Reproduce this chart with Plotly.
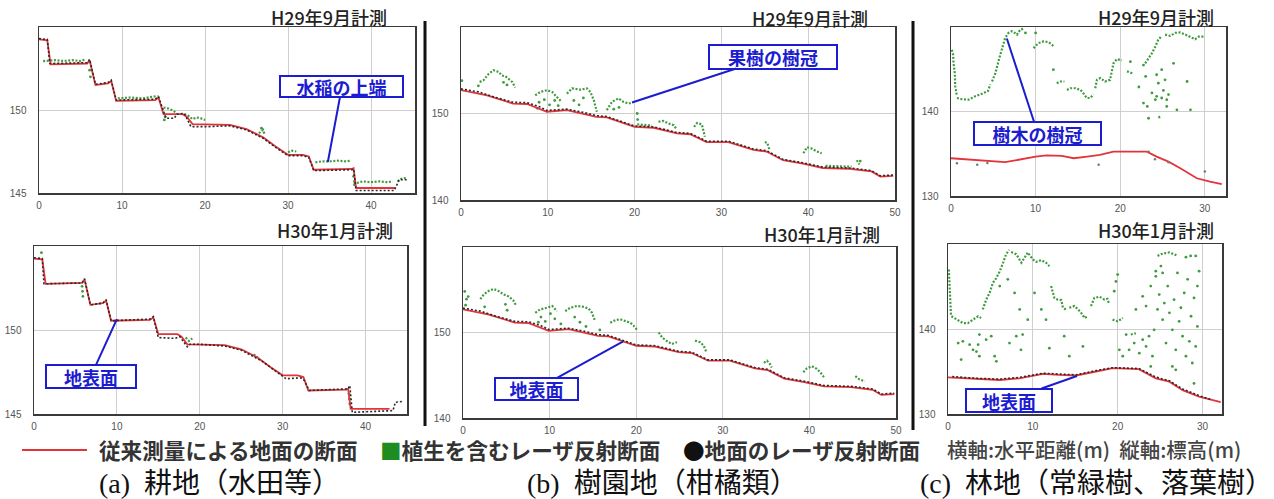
import plotly.graph_objects as go

W, H = 1274, 499


def fx(p):
    return p / W


def fy(p):
    return 1 - p / H


# ---------------- DATA ----------------
# (a) paddy field: conventional survey (red)
a_red_x = [0, 1.0, 1.4, 5.8, 6.1, 6.8, 8.3, 8.7, 9.3, 14.0, 14.4, 15.0, 17.3, 17.8, 18.5, 23.0, 25.0,
           27.0, 28.5, 30.0, 31.8, 32.5, 33.1, 37.7, 37.9, 38.2, 42.9]
a_red_y = [154.25, 154.2, 152.75, 152.8, 153.0, 151.5, 151.6, 151.75, 150.55, 150.6, 150.75, 149.75, 149.75,
           149.6, 149.15, 149.1, 148.85, 148.35, 147.8, 147.3, 147.3, 147.2, 146.4, 146.45, 146.5, 145.3, 145.3]
# ground laser section H29
a1_gnd_x = [0, 1.0, 1.3, 5.8, 6.1, 6.8, 8.3, 8.7, 9.3, 14.0, 14.4, 15.0, 15.3, 16.3, 16.6, 17.5, 18.3, 20.5,
            23.0, 25.0, 27.0, 28.5, 30.0, 31.8, 32.5, 33.1, 37.7, 37.9, 38.2, 42.8, 43.4, 44.3]
a1_gnd_y = [154.3, 154.25, 152.8, 152.85, 153.05, 151.55, 151.65, 151.8, 150.6, 150.65, 150.8, 149.9, 149.5,
            149.5, 149.75, 149.8, 149.0, 149.0, 149.05, 148.8, 148.3, 147.75, 147.25, 147.25, 147.15, 146.35,
            146.4, 146.45, 145.15, 145.15, 145.8, 145.8]
# vegetation laser section H29 (segments)
a1_veg_x = [[0.5, 2, 3, 4, 5, 5.6], [9.5, 11, 12.5, 14, 14.3], [15.0, 15.5, 16.0, 16.5],
            [17.5, 18.0, 18.5, 19.0, 19.5, 20.0], [26.5, 27.0, 27.2], [30.0, 30.5, 31.0],
            [33.3, 34, 35, 36, 37, 37.6], [38.3, 39, 40, 41, 42, 42.6], [43.2, 43.6, 44.0, 44.3]]
a1_veg_y = [[152.95, 153.0, 152.95, 153.0, 152.95, 153.05], [150.7, 150.75, 150.7, 150.8, 150.85],
            [150.15, 150.1, 150.0, 149.85], [149.75, 149.65, 149.45, 149.55, 149.5, 149.4],
            [148.6, 148.8, 148.5], [147.45, 147.55, 147.5], [146.85, 146.9, 146.9, 146.95, 146.9, 146.95],
            [145.6, 145.7, 145.65, 145.7, 145.65, 145.7], [145.7, 145.85, 145.9, 145.85]]
a1_pts_x = [6.1, 6.2, 15.1, 15.2, 37.9, 38.0, 38.0, 26.8]
a1_pts_y = [152.4, 152.0, 149.4, 149.6, 146.0, 145.7, 145.5, 148.9]
# H30
a2_gnd_x = [0, 1.0, 1.2, 5.8, 6.1, 6.8, 8.3, 8.7, 9.3, 14.0, 14.4, 15.0, 17.0, 17.6, 18.5, 18.8, 20.0, 23.0,
            25.0, 27.5, 30.4, 32.2, 32.6, 33.2, 37.9, 38.1, 38.4, 42.8, 43.3, 43.6, 44.5]
a2_gnd_y = [154.3, 154.25, 152.75, 152.8, 153.05, 151.5, 151.6, 151.8, 150.55, 150.65, 150.8, 149.55, 149.5,
            149.6, 149.0, 149.15, 149.15, 149.05, 148.8, 148.15, 147.1, 147.15, 147.0, 146.4, 146.5, 146.7,
            145.1, 145.15, 145.2, 145.7, 145.75]
a2_veg_x = [[18.3, 18.7, 19.1], [26.5, 27.0]]
a2_veg_y = [[149.55, 149.35, 149.5], [148.55, 148.35]]
a2_pts_x = [5.8, 5.85, 5.9, 38.0, 38.05, 38.1, 0.9]
a2_pts_y = [152.6, 152.3, 152.0, 146.2, 145.9, 145.6, 154.6]

# (b) orchard
b_red_x = [0, 3.0, 6.0, 7.6, 9.9, 12.2, 15.6, 16.8, 20.0, 22.2, 24.9, 26.4, 28.3, 30.8, 33.7, 35.2, 37.1,
           39.4, 41.7, 44.8, 47.3, 48.3, 49.8]
b_red_y = [152.7, 152.1, 151.15, 151.1, 150.2, 150.4, 149.6, 149.55, 148.45, 148.35, 147.7, 147.6, 146.7,
           146.7, 145.8, 145.6, 144.6, 144.2, 143.7, 143.6, 143.3, 142.7, 142.8]
b_gnd_x = [0, 2.0, 4.0, 6.0, 7.6, 9.0, 9.9, 12.2, 14.0, 15.6, 16.8, 18.5, 20.0, 22.2, 24.9, 26.4, 28.3, 30.8,
           33.7, 35.2, 37.1, 39.4, 41.7, 44.8, 47.3, 48.3, 49.8]
b_gnd_y = [152.85, 152.5, 151.85, 151.3, 151.25, 150.8, 150.35, 150.5, 150.15, 149.75, 149.65, 149.1, 148.55,
           148.45, 147.8, 147.7, 146.8, 146.8, 145.9, 145.7, 144.7, 144.3, 143.8, 143.7, 143.4, 142.8, 142.9]
b1_veg_x = [[2.15, 2.6, 3.2, 3.75, 4.35, 4.7, 5.1, 5.4, 5.9, 6.25], [8.55, 9.15, 9.9, 10.5, 11.05, 11.6],
            [12.2, 12.8, 13.75, 14.5, 14.9, 15.3, 15.65], [16.8, 17.4, 18.15, 18.7, 19.3, 19.7],
            [22.75, 23.3, 23.9, 24.5, 24.8], [26.85, 27.2, 27.75, 28.0, 28.1], [35.0, 35.3, 35.55],
            [39.45, 39.85, 40.4, 41.0, 41.55], [45.6, 45.9], [20.3, 21.0, 22.0], [42.0, 43.5, 45.0]]
b1_veg_y = [[153.65, 153.85, 154.6, 155.0, 154.8, 154.4, 154.3, 154.05, 153.65, 153.0],
            [152.1, 152.5, 152.7, 152.5, 151.9, 151.35], [152.3, 152.9, 152.75, 152.9, 152.5, 151.55, 150.2],
            [150.4, 151.35, 151.75, 151.35, 151.15, 151.25], [149.05, 149.15, 148.85, 148.65, 148.25],
            [148.45, 148.9, 148.75, 147.9, 147.3], [146.7, 146.6, 145.75], [145.4, 146.1, 145.95, 145.6, 145.4],
            [144.6, 144.1], [148.75, 148.7, 148.6], [143.95, 143.9, 143.85]]
b1_pts_x = [0.1, 9.0, 9.6, 10.2, 10.8, 11.2, 8.8, 13.0, 13.6, 14.1, 4.9, 5.3, 2.0, 17.6, 18.2, 20.3, 20.35, 46.0]
b1_pts_y = [153.8, 151.3, 151.6, 151.0, 151.5, 150.9, 150.6, 151.5, 151.0, 151.8, 153.6, 153.3, 153.2, 150.5,
            150.7, 150.0, 149.3, 144.5]
b2_veg_x = [[2.0, 2.4, 2.95, 3.55, 4.1, 4.7, 5.3, 5.85, 6.15], [8.35, 8.9, 9.7, 10.3, 10.85],
            [11.8, 12.4, 13.15, 13.9, 14.5, 14.9, 15.25], [17.0, 17.6, 18.15, 18.75, 19.3, 19.7, 20.1],
            [22.6, 23.0, 23.55, 24.1, 24.7], [26.8, 27.4, 27.8, 28.1], [34.75, 35.1, 35.45, 35.65],
            [39.3, 39.7, 40.3, 40.85, 41.25, 41.7], [45.3, 45.8, 46.4]]
b2_veg_y = [[153.9, 154.45, 154.85, 155.1, 154.85, 154.45, 154.2, 153.7, 153.1], [152.3, 152.7, 152.9, 153.1, 152.5],
            [152.5, 152.9, 153.1, 153.0, 152.8, 152.3, 151.35], [151.15, 151.45, 151.55, 151.35, 151.15, 150.8, 150.3],
            [150.0, 149.4, 149.0, 148.65, 148.85], [149.05, 148.85, 148.45, 147.7], [146.45, 146.7, 146.3, 145.9],
            [145.35, 145.8, 146.05, 145.75, 145.35, 144.75], [144.9, 144.5, 144.3]]
b2_pts_x = [0.2, 0.4, 0.3, 0.6, 9.0, 9.5, 10.1, 10.6, 11.3, 8.7, 12.9, 13.5, 14.2, 4.9, 5.1, 2.5, 15.8]
b2_pts_y = [154.8, 153.9, 153.2, 154.2, 151.8, 151.3, 152.2, 151.6, 151.0, 151.2, 151.8, 151.2, 150.7, 153.3,
            152.6, 153.0, 150.3]

# (c) forest
c1_red_x = [0, 3.1, 6.4, 10.0, 11.3, 13.1, 14.5, 16.1, 17.6, 19.2, 23.15, 24.3, 25.7, 27.1, 29.05, 30.6, 32.0]
c1_red_y = [134.47, 134.27, 134.0, 134.66, 134.8, 134.75, 134.47, 134.66, 134.86, 135.25, 135.25, 134.66,
            134.07, 133.28, 132.1, 131.7, 131.4]
c1_gnd_x = [0.7, 3.1, 4.3, 17.45, 23.35, 24.1, 25.7, 30.0]
c1_gnd_y = [133.87, 133.7, 133.9, 133.7, 135.25, 134.35, 134.0, 132.9]
c1_veg_x = [[0.1, 0.25, 0.3, 0.45, 0.5, 0.7], [0.7, 1.3, 2.1, 2.85, 3.65, 4.35, 4.65],
            [4.85, 5.25, 5.65, 6.05, 6.4, 6.8, 7.2, 7.4, 7.8, 8.2, 8.6], [9.75, 10.35, 10.95, 11.55, 11.95, 12.1],
            [12.5, 12.9, 13.4], [13.7, 14.1, 14.7, 15.3, 15.65, 16.05, 16.45, 16.85],
            [17.05, 17.25, 17.65, 18.2, 18.8, 19.0, 19.2, 19.6, 20.2], [20.8, 21.2, 21.6],
            [22.95, 23.35, 23.75, 24.15, 24.5, 24.9],
            [25.3, 25.9, 26.5, 27.1, 27.7, 28.25, 28.85, 29.25, 29.85], [24.5, 24.9]]
c1_veg_y = [[147.3, 146.7, 145.7, 144.5, 143.0, 141.8], [141.6, 141.45, 141.4, 141.8, 142.1, 142.4, 143.2],
            [143.55, 144.55, 146.1, 147.5, 148.7, 149.3, 149.5, 149.4, 149.1, 149.7, 149.8],
            [147.5, 148.1, 148.3, 148.2, 147.9, 147.7], [143.35, 143.55, 143.55],
            [142.55, 142.75, 142.75, 142.55, 142.15, 141.6, 141.6, 142.0],
            [142.75, 143.75, 143.95, 143.55, 143.75, 144.95, 145.7, 146.2, 146.05], [144.75, 144.6, 144.45],
            [145.7, 146.3, 146.9, 147.7, 148.5, 148.95],
            [149.1, 148.95, 149.3, 149.35, 149.1, 148.8, 148.55, 148.85, 148.85], [139.3, 139.4]]
c1_pts_x = [22.2, 22.75, 23.2, 23.75, 24.15, 24.3, 24.5, 24.9, 25.1, 25.5, 25.7, 26.3, 26.7, 27.9, 28.3, 24.9,
            24.3, 25.3, 23.35, 21.2, 22.75, 12.1, 8.8, 10.0, 23.0, 25.5]
c1_pts_y = [142.9, 141.0, 140.6, 142.2, 141.4, 141.8, 143.35, 141.6, 142.5, 141.4, 142.0, 145.7, 140.2, 143.55,
            140.2, 144.95, 144.35, 143.75, 139.2, 145.9, 145.5, 144.95, 149.3, 149.3, 144.15, 140.6]
c2_red_x = [0, 3.3, 6.1, 8.4, 11.2, 13.1, 15.1, 17.45, 19.4, 22.5, 24.5, 26.1, 27.65, 29.6, 32.15]
c2_red_y = [134.3, 134.13, 134.0, 134.2, 134.72, 134.6, 134.53, 135.0, 135.4, 135.28, 134.2, 133.8, 132.8,
            132.05, 131.4]
c2_gnd_x = [0.5, 3.3, 6.1, 8.4, 11.2, 13.1, 15.1, 17.45, 19.4, 22.5, 24.5, 26.1, 27.65, 29.6, 31.0]
c2_gnd_y = [134.4, 134.2, 134.1, 134.3, 134.8, 134.7, 134.6, 135.1, 135.45, 135.35, 134.35, 133.9, 132.95,
            132.15, 131.7]
c2_veg_x = [[0.1, 0.15, 0.2, 0.3, 0.35], [0.4, 1.0, 1.75, 2.35, 2.95, 3.55, 3.9],
            [4.1, 4.5, 4.9, 5.3, 5.7, 6.1, 6.5, 6.85, 7.2],
            [7.45, 8.05, 8.65, 9.0, 9.4, 10.0, 10.4, 11.0, 11.55, 11.95],
            [12.15, 12.55, 12.95, 13.35, 13.55, 13.9], [14.3, 14.9, 15.3, 15.7, 16.1, 16.45],
            [16.85, 17.25, 17.85, 18.45, 18.8, 19.0], [19.4, 20.0, 20.6], [21.55, 22.15],
            [24.7, 25.1, 25.5, 26.1, 26.65, 27.05]]
c2_veg_y = [[147.0, 146.0, 144.5, 142.8, 141.6], [141.5, 141.1, 140.7, 140.7, 141.1, 141.5, 141.3],
            [142.3, 143.45, 144.25, 145.45, 146.0, 146.8, 147.8, 148.8, 149.3],
            [149.05, 148.8, 147.8, 148.4, 149.0, 148.2, 147.9, 148.1, 147.8, 147.4],
            [145.05, 143.65, 143.45, 143.4, 142.5, 142.3], [142.5, 142.7, 142.35, 141.9, 141.3, 141.5],
            [142.7, 143.65, 143.8, 143.45, 143.55, 142.9], [141.1, 140.9, 141.3], [139.35, 139.5],
            [148.6, 148.8, 148.9, 149.0, 148.8, 148.6]]
c2_pts_x = [1.2, 1.75, 2.55, 2.95, 3.55, 3.7, 4.5, 5.1, 5.5, 5.7, 7.25, 8.05, 8.6, 8.8, 3.7, 3.35, 1.55, 6.1,
            7.05, 7.85, 8.45, 9.4, 10.2, 11.0, 11.95, 11.55, 13.7, 15.9, 14.3, 19.6, 20.0, 19.8, 21.35, 21.95,
            22.55, 22.95, 23.35, 23.7, 24.1, 24.3, 24.7, 24.9, 25.3, 25.5, 25.7, 25.9, 26.1, 26.45, 26.65,
            26.85, 27.05, 27.25, 27.45, 27.65, 27.85, 28.05, 28.25, 28.45, 28.65, 28.8, 29.0, 29.2, 29.4, 29.6,
            29.2, 29.4, 29.0, 22.95, 23.35, 23.9, 24.5, 25.1, 21.0, 20.6, 20.2, 23.9, 26.45, 26.85, 22.15,
            28.05, 28.6, 25.3, 24.5]
c2_pts_y = [138.35, 138.55, 138.15, 137.55, 138.15, 136.8, 138.75, 139.15, 136.8, 136.2, 138.35, 139.15,
            137.55, 139.35, 139.35, 137.35, 136.4, 145.05, 145.85, 144.25, 142.3, 141.1, 144.25, 142.3, 137.75,
            141.1, 139.15, 137.95, 136.8, 144.45, 146.4, 145.6, 137.55, 138.35, 137.15, 138.75, 137.95, 139.15,
            136.8, 139.9, 142.3, 144.05, 141.1, 143.05, 138.35, 145.05, 141.9, 139.9, 143.45, 137.55, 146.6,
            140.9, 142.5, 139.15, 144.25, 136.8, 145.85, 138.55, 141.5, 136.0, 143.65, 137.95, 140.3, 146.8,
            148.6, 145.05, 133.6, 143.85, 142.7, 145.05, 146.2, 147.4, 139.35, 136.8, 137.55, 135.6, 135.6,
            135.2, 142.3, 148.45, 148.6, 146.6, 146.8]

# ---------------- STYLE ----------------
RED = '#e3343a'
GREEN = '#3f9b3f'
DARK = '#2a2a2a'
BLUE = '#1c1cd0'
JP = 'Noto Sans CJK JP'

fig = go.Figure()

panels = [
    # key, pixel box (x0, x1, y0, y1), x range, y range, xticks, yticks
    ('', (39, 415, 27, 193), [0, 45.3], [145, 155], [0, 10, 20, 30, 40], [145, 150]),
    ('2', (34, 407, 246, 414), [0, 45.0], [145, 155], [0, 10, 20, 30, 40], [145, 150]),
    ('3', (461, 895, 27, 200), [0, 50], [140, 160], [0, 10, 20, 30, 40, 50], [140, 150]),
    ('4', (463, 896, 247, 418), [0, 50], [140, 160], [0, 10, 20, 30, 40, 50], [140, 150]),
    ('5', (951, 1226, 27, 196), [0, 32.5], [130, 150], [0, 10, 20, 30], [130, 140]),
    ('6', (948, 1222, 244, 414), [0, 32.3], [130, 150], [0, 10, 20, 30], [130, 140]),
]

axfont = dict(family='Liberation Sans', size=10, color='#555')
for k, (x0, x1, y0, y1), xr, yr, xt, yt in panels:
    fig.layout['xaxis' + k] = dict(domain=[fx(x0), fx(x1)], range=xr, anchor='y' + k, tickvals=xt,
                                   showgrid=True, gridcolor='#cfcfcf', gridwidth=1, zeroline=False,
                                   showline=True, linecolor='#3a3a3a', linewidth=1.5, mirror=True,
                                   ticks='', tickfont=axfont, ticklabelstandoff=2, fixedrange=True,
                                   automargin=False)
    fig.layout['yaxis' + k] = dict(domain=[fy(y1), fy(y0)], range=yr, anchor='x' + k, tickvals=yt,
                                   showgrid=True, gridcolor='#cfcfcf', gridwidth=1, zeroline=False,
                                   showline=True, linecolor='#3a3a3a', linewidth=1.5, mirror=True,
                                   ticks='', tickfont=axfont, ticklabelstandoff=9, fixedrange=True,
                                   automargin=False)


def join(xs, ys):
    X, Y = [], []
    for sx, sy in zip(xs, ys):
        X += list(sx) + [None]
        Y += list(sy) + [None]
    return X, Y


def add_panel(k, red_x, red_y, gnd_x, gnd_y, veg_x, veg_y, pts_x, pts_y, gnd_mode='lines'):
    ax = dict(xaxis='x' + k, yaxis='y' + k, showlegend=False, hoverinfo='skip')
    vx, vy = join(veg_x, veg_y)
    fig.add_trace(go.Scatter(x=vx, y=vy, mode='lines',
                             line=dict(color=GREEN, width=2.2, dash='2px,1.6px'), **ax))
    fig.add_trace(go.Scatter(x=pts_x, y=pts_y, mode='markers',
                             marker=dict(color=GREEN, size=2.8, line=dict(width=0)), **ax))
    fig.add_trace(go.Scatter(x=red_x, y=red_y, mode='lines', line=dict(color=RED, width=1.8), **ax))
    if gnd_mode == 'lines':
        fig.add_trace(go.Scatter(x=gnd_x, y=gnd_y, mode='lines',
                                 line=dict(color=DARK, width=1.6, dash='2px,2px'), **ax))
    else:
        fig.add_trace(go.Scatter(x=gnd_x, y=gnd_y, mode='markers',
                                 marker=dict(color='#777', size=2.5), **ax))


add_panel('', a_red_x, a_red_y, a1_gnd_x, a1_gnd_y, a1_veg_x, a1_veg_y, a1_pts_x, a1_pts_y)
add_panel('2', a_red_x, a_red_y, a2_gnd_x, a2_gnd_y, a2_veg_x, a2_veg_y, a2_pts_x, a2_pts_y)
add_panel('3', b_red_x, b_red_y, b_gnd_x, b_gnd_y, b1_veg_x, b1_veg_y, b1_pts_x, b1_pts_y)
add_panel('4', b_red_x, b_red_y, b_gnd_x, b_gnd_y, b2_veg_x, b2_veg_y, b2_pts_x, b2_pts_y)
add_panel('5', c1_red_x, c1_red_y, c1_gnd_x, c1_gnd_y, c1_veg_x, c1_veg_y, c1_pts_x, c1_pts_y, gnd_mode='markers')
add_panel('6', c2_red_x, c2_red_y, c2_gnd_x, c2_gnd_y, c2_veg_x, c2_veg_y, c2_pts_x, c2_pts_y)

ann = []
# panel titles
for text, cx, cy in [('H29年9月計測', 329, 17), ('H30年1月計測', 335, 230),
                     ('H29年9月計測', 810, 18), ('H30年1月計測', 822, 234),
                     ('H29年9月計測', 1156, 17), ('H30年1月計測', 1156, 230)]:
    ann.append(dict(text=text, x=fx(cx), y=fy(cy), xref='paper', yref='paper', showarrow=False,
                    xanchor='center', yanchor='middle', font=dict(family=JP, size=18, color='#222', weight=500)))

# callouts: (text, axis key, target x, target y, ax, ay, w, h)
for text, k, tx, ty, dx, dy, w, h in [
    ('水稲の上端', '', 34.8, 146.87, 14, -75, 121, 19),
    ('地表面', '2', 10.0, 150.65, -26, 57, 88, 21),
    ('果樹の樹冠', '3', 19.7, 151.27, 141, -46, 126, 22),
    ('地表面', '4', 18.5, 148.95, -87, 48, 81, 20),
    ('樹木の樹冠', '5', 6.6, 148.64, 31, 95, 125, 21),
    ('地表面', '6', 15.2, 134.47, -68, 24, 84, 21),
]:
    ann.append(dict(text='<b>%s</b>' % text, x=tx, y=ty, xref='x' + k, yref='y' + k, ax=dx, ay=dy,
                    showarrow=True, arrowhead=0, arrowwidth=2, arrowcolor=BLUE, standoff=0,
                    font=dict(family=JP, size=18, color=BLUE), bgcolor='white', bordercolor=BLUE,
                    borderwidth=2, borderpad=0, width=w, height=h, align='center', valign='middle'))

# legend row
leg_font = dict(family=JP, size=21.6, color='#333', weight=700)
ann.append(dict(text='従来測量による地面の断面', x=fx(97), y=fy(449), xref='paper', yref='paper',
                showarrow=False, xanchor='left', yanchor='middle', font=leg_font))
ann.append(dict(text='<span style="color:#1e8c1e">■</span>植生を含むレーザ反射断面', x=fx(378), y=fy(449),
                xref='paper', yref='paper', showarrow=False, xanchor='left', yanchor='middle', font=leg_font))
ann.append(dict(text='<span style="color:#111">●</span>地面のレーザ反射断面', x=fx(681), y=fy(449),
                xref='paper', yref='paper', showarrow=False, xanchor='left', yanchor='middle', font=leg_font))
ann.append(dict(text='横軸:水平距離(m)  縦軸:標高(m)', x=fx(945), y=fy(449), xref='paper', yref='paper',
                showarrow=False, xanchor='left', yanchor='middle',
                font=dict(family=JP, size=20.5, color='#444', weight=500)))

# captions
cap_font = dict(family='Liberation Serif, ' + JP, size=28, color='#111')
for text, lx in [('(a)  耕地（水田等）', 97), ('(b)  樹園地（柑橘類）', 525), ('(c)  林地（常緑樹、落葉樹）', 918)]:
    ann.append(dict(text=text, x=fx(lx), y=fy(483), xref='paper', yref='paper', showarrow=False,
                    xanchor='left', yanchor='middle', font=cap_font))

shapes = [
    dict(type='line', xref='paper', yref='paper', x0=fx(22), x1=fx(87), y0=fy(450), y1=fy(450),
         line=dict(color=RED, width=1.8)),
    dict(type='line', xref='paper', yref='paper', x0=fx(425), x1=fx(425), y0=fy(21), y1=fy(426),
         line=dict(color='#111', width=3)),
    dict(type='line', xref='paper', yref='paper', x0=fx(913), x1=fx(913), y0=fy(21), y1=fy(430),
         line=dict(color='#111', width=3)),
]

fig.update_layout(width=W, height=H, margin=dict(l=0, r=0, t=0, b=0, autoexpand=False),
                  paper_bgcolor='white', plot_bgcolor='white', annotations=ann, shapes=shapes,
                  showlegend=False)

fig.write_html('out.html', config={'displayModeBar': False, 'staticPlot': True},
               post_script="document.body.style.margin='0';document.body.style.overflow='hidden';")
